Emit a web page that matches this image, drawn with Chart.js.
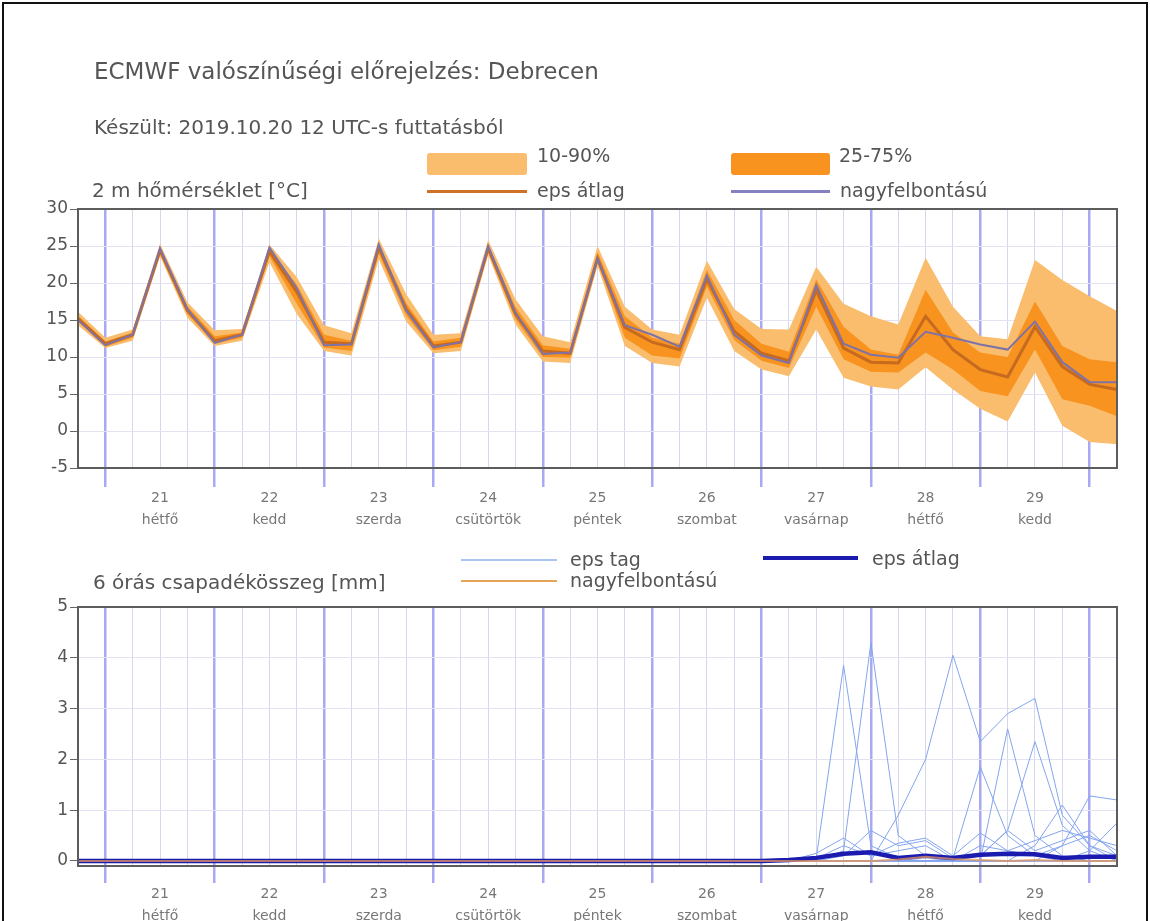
<!DOCTYPE html>
<html lang="hu">
<head>
<meta charset="utf-8">
<title>ECMWF valószínűségi előrejelzés: Debrecen</title>
<script src="https://cdn.jsdelivr.net/npm/chart.js@4.4.1/dist/chart.umd.min.js"></script>
<style>
  html, body { margin: 0; padding: 0; background: #fff; }
  body { width: 1150px; height: 921px; overflow: hidden; position: relative;
         font-family: "DejaVu Sans", sans-serif; color: #555; }
  .frame { position: absolute; left: 2px; top: 2px; width: 1142px; height: 960px; border: 2px solid #111; }
  canvas { position: absolute; left: 0; top: 0; }
  .txt { position: absolute; white-space: nowrap; line-height: 1; }
  .key { position: absolute; }
</style>
</head>
<body>
<div class="frame"></div>
<canvas id="tempChart" width="1150" height="921"></canvas>
<canvas id="precChart" width="1150" height="921"></canvas>

<div class="txt" style="left:94px;top:60px;font-size:23px;">ECMWF valószínűségi előrejelzés: Debrecen</div>
<div class="txt" style="left:94px;top:117px;font-size:20px;">Készült: 2019.10.20 12 UTC-s futtatásból</div>
<div class="txt" style="left:92px;top:180px;font-size:20px;">2 m hőmérséklet [°C]</div>

<div class="key" style="left:427px;top:153px;width:100px;height:22px;background:#f9bd6d;border-radius:3px;"></div>
<div class="txt" style="left:537px;top:146px;font-size:19px;">10-90%</div>
<div class="key" style="left:731px;top:153px;width:99px;height:22px;background:#f8931f;border-radius:3px;"></div>
<div class="txt" style="left:839px;top:146px;font-size:19px;">25-75%</div>
<div class="key" style="left:427px;top:190px;width:100px;height:3px;background:#cf7126;"></div>
<div class="txt" style="left:537px;top:181px;font-size:19px;">eps átlag</div>
<div class="key" style="left:731px;top:190px;width:99px;height:3px;background:#8580bf;"></div>
<div class="txt" style="left:840px;top:181px;font-size:19px;">nagyfelbontású</div>

<div class="txt" style="left:93px;top:572px;font-size:20px;">6 órás csapadékösszeg [mm]</div>
<div class="key" style="left:461px;top:559px;width:96px;height:2px;background:#aac4f4;"></div>
<div class="txt" style="left:570px;top:550px;font-size:19px;">eps tag</div>
<div class="key" style="left:763px;top:556px;width:95px;height:4px;background:#1b1bb0;"></div>
<div class="txt" style="left:872px;top:549px;font-size:19px;">eps átlag</div>
<div class="key" style="left:461px;top:580px;width:96px;height:2px;background:#e4a45a;"></div>
<div class="txt" style="left:570px;top:571px;font-size:19px;">nagyfelbontású</div>

<script>
// 6-hourly steps from 2019.10.20 18 UTC (lead +6 h) to 10.30 06 UTC (lead +234 h)
const dayNumbers = ["21", "22", "23", "24", "25", "26", "27", "28", "29"];
const dayNames = ["hétfő", "kedd", "szerda", "csütörtök", "péntek", "szombat", "vasárnap", "hétfő", "kedd"];
const tempTicks = [-5, 0, 5, 10, 15, 20, 25, 30];
const precTicks = [0, 1, 2, 3, 4, 5];

// 2 m temperature [°C]
const t2mHres = [15, 11.6, 13, 24.7, 16.5, 11.9, 13, 24.8, 19.3, 11.6,
  11.7, 25.2, 16.3, 11.3, 12, 25, 16, 10.4, 10.6, 23.3,
  14.3, 13, 11.4, 21, 13, 10.2, 9.2, 19.7, 11.8, 10.3,
  9.9, 13.4, 12.6, 11.7, 11, 14.8, 9.3, 6.6, 6.6];
const t2mMean = [15.2, 11.8, 13, 24.4, 16.3, 12.2, 13, 24.3, 18.8, 12,
  11.8, 24.8, 16.5, 11.5, 12, 24.7, 15.8, 10.8, 10.5, 23.3,
  14, 12, 11, 20.5, 13.5, 10.5, 9.5, 19, 11.2, 9.3,
  9.2, 15.5, 11, 8.3, 7.3, 14.1, 8.7, 6.3, 5.6];
const t2mP10 = [14.3, 11.2, 12.2, 23.6, 15.3, 11.5, 12.2, 22.8, 15.8, 10.8,
  10.2, 23.2, 14.8, 10.5, 10.8, 23.8, 14.4, 9.4, 9.2, 22.3,
  11.5, 9.2, 8.7, 18, 10.8, 8.3, 7.4, 13.7, 7.2, 6,
  5.6, 8.6, 5.6, 3, 1.3, 7.9, 0.7, -1.5, -1.8];
const t2mP25 = [14.8, 11.4, 12.6, 24.1, 15.8, 11.8, 12.6, 23.6, 17.2, 11.3,
  10.8, 24, 15.6, 10.9, 11.4, 24.3, 15.1, 10, 9.9, 22.9,
  12.6, 10.2, 9.8, 19.5, 12.3, 9.5, 8.5, 16.8, 9.7, 8,
  7.9, 10.6, 8.3, 5.4, 4.7, 11, 4.3, 3.4, 2];
const t2mP75 = [15.6, 12.1, 13.3, 24.8, 16.9, 12.8, 13.3, 24.6, 19.8, 13,
  12.2, 25.3, 17.3, 12.1, 12.6, 25.2, 16.8, 11.6, 11.1, 24.2,
  15.5, 12.6, 11.8, 21.8, 15, 11.8, 10.7, 20.5, 14.1, 11,
  10.3, 19.1, 13.3, 10.6, 10, 17.5, 11.5, 9.7, 9.3];
const t2mP90 = [16.1, 12.6, 13.7, 25.3, 17.4, 13.6, 13.8, 25.2, 20.8, 14.3,
  13.2, 26, 18.5, 13, 13.2, 25.8, 17.8, 12.8, 12, 25,
  16.8, 13.7, 13, 23, 16.5, 13.8, 13.7, 22.2, 17.2, 15.5,
  14.4, 23.4, 16.8, 12.8, 12.4, 23.1, 20.4, 18.2, 16.2];

// 6-hour precipitation [mm]
const precMean = [0, 0, 0, 0, 0, 0, 0, 0, 0, 0,
  0, 0, 0, 0, 0, 0, 0, 0, 0, 0,
  0, 0, 0, 0, 0, 0, 0.02, 0.06, 0.14, 0.17,
  0.06, 0.1, 0.06, 0.12, 0.14, 0.13, 0.06, 0.08, 0.08];
const precHres = [0, 0, 0, 0, 0, 0, 0, 0, 0, 0,
  0, 0, 0, 0, 0, 0, 0, 0, 0, 0,
  0, 0, 0, 0, 0, 0, 0, 0, 0, 0,
  0.03, 0.08, 0.04, 0.02, 0, 0.02, 0, 0, 0];
const memberA = [0, 0, 0, 0, 0, 0, 0, 0, 0, 0,
  0, 0, 0, 0, 0, 0, 0, 0, 0, 0,
  0, 0, 0, 0, 0, 0, 0, 0.05, 3.85, 0.3,
  0.05, 0, 0, 0, 0, 0, 0, 0, 0];
const memberB = [0, 0, 0, 0, 0, 0, 0, 0, 0, 0,
  0, 0, 0, 0, 0, 0, 0, 0, 0, 0,
  0, 0, 0, 0, 0, 0, 0, 0, 0.2, 4.3,
  0.5, 0.1, 0, 0, 0, 0, 0, 0, 0];
const memberC = [0, 0, 0, 0, 0, 0, 0, 0, 0, 0,
  0, 0, 0, 0, 0, 0, 0, 0, 0, 0,
  0, 0, 0, 0, 0, 0, 0, 0, 0, 0,
  0.9, 2, 4.05, 2.35, 2.9, 3.2, 0.9, 0.3, 0.1];
const memberD = [0, 0, 0, 0, 0, 0, 0, 0, 0, 0,
  0, 0, 0, 0, 0, 0, 0, 0, 0, 0,
  0, 0, 0, 0, 0, 0, 0, 0, 0, 0,
  0, 0, 0, 0, 2.6, 0.5, 0.1, 0, 0];
const memberE = [0, 0, 0, 0, 0, 0, 0, 0, 0, 0,
  0, 0, 0, 0, 0, 0, 0, 0, 0, 0,
  0, 0, 0, 0, 0, 0, 0, 0, 0, 0,
  0, 0, 0, 0.1, 0.6, 2.35, 0.7, 0.2, 0];
const memberF = [0, 0, 0, 0, 0, 0, 0, 0, 0, 0,
  0, 0, 0, 0, 0, 0, 0, 0, 0, 0,
  0, 0, 0, 0, 0, 0, 0, 0, 0, 0,
  0, 0, 0.05, 1.85, 0.5, 0.1, 0, 0, 0];
const memberG = [0, 0, 0, 0, 0, 0, 0, 0, 0, 0,
  0, 0, 0, 0, 0, 0, 0, 0, 0, 0,
  0, 0, 0, 0, 0, 0, 0, 0, 0, 0,
  0, 0, 0, 0, 0, 0.3, 1.1, 0.3, 0];
const memberH = [0, 0, 0, 0, 0, 0, 0, 0, 0, 0,
  0, 0, 0, 0, 0, 0, 0, 0, 0, 0,
  0, 0, 0, 0, 0, 0, 0, 0, 0, 0,
  0, 0, 0, 0, 0, 0, 0.3, 1.28, 1.2];
const memberI = [0, 0, 0, 0, 0, 0, 0, 0, 0, 0,
  0, 0, 0, 0, 0, 0, 0, 0, 0, 0,
  0, 0, 0, 0, 0, 0, 0, 0, 0, 0,
  0, 0, 0, 0, 0, 0, 0, 0.2, 0.75];
const memberJ = [0, 0, 0, 0, 0, 0, 0, 0, 0, 0,
  0, 0, 0, 0, 0, 0, 0, 0, 0, 0,
  0, 0, 0, 0, 0, 0, 0, 0.15, 0.45, 0.1,
  0.35, 0.45, 0.1, 0.55, 0.2, 0.1, 0.3, 0.5, 0.2];
const memberK = [0, 0, 0, 0, 0, 0, 0, 0, 0, 0,
  0, 0, 0, 0, 0, 0, 0, 0, 0, 0,
  0, 0, 0, 0, 0, 0, 0, 0, 0.1, 0.6,
  0.3, 0.4, 0.05, 0.1, 0.6, 0.2, 0.4, 0.6, 0.1];
const memberL = [0, 0, 0, 0, 0, 0, 0, 0, 0, 0,
  0, 0, 0, 0, 0, 0, 0, 0, 0, 0,
  0, 0, 0, 0, 0, 0, 0, 0.05, 0.3, 0.1,
  0.2, 0.3, 0, 0.3, 0.2, 0.4, 0.6, 0.45, 0.3];
const epsMembers = [memberA, memberB, memberC, memberD, memberE, memberF,
  memberG, memberH, memberI, memberJ, memberK, memberL];

Chart.defaults.font.family = "DejaVu Sans";
Chart.defaults.color = "#555";

// lead time in hours -> x position
const pts = (arr) => arr.map((v, i) => ({ x: 6 + 6 * i, y: v }));
const isDayLine = (h) => (h - 12) % 24 === 0;
const dayBlue = "#a9a9f2";
const thinGrid = "#d6d6ec";

const plotFrame = {
  id: "plotFrame",
  afterDraw(chart) {
    const { ctx, chartArea: a } = chart;
    ctx.save();
    ctx.strokeStyle = "#5c5c5c";
    ctx.lineWidth = 2;
    ctx.strokeRect(a.left, a.top, a.right - a.left, a.bottom - a.top);
    ctx.restore();
  },
};

function xAxis(height, tickLen) {
  return {
    type: "linear",
    min: 6,
    max: 234,
    border: { display: false },
    afterFit: (s) => { s.height = height; },
    grid: {
      color: (c) => (c.tick && isDayLine(c.tick.value) ? dayBlue : thinGrid),
      lineWidth: (c) => (c.tick && isDayLine(c.tick.value) ? 2.5 : 1),
      tickColor: (c) => (c.tick && isDayLine(c.tick.value) ? dayBlue : "rgba(0,0,0,0)"),
      tickWidth: 2.5,
      tickLength: tickLen,
    },
    ticks: {
      stepSize: 6,
      autoSkip: false,
      maxRotation: 0,
      padding: 0,
      color: "#777",
      font: { size: 14, lineHeight: 1.6 },
      callback: (v) => (v % 24 === 0 ? [dayNumbers[v / 24 - 1], dayNames[v / 24 - 1]] : ""),
    },
  };
}

function yAxis(ticks, min, max) {
  return {
    min: min,
    max: max,
    border: { display: false },
    afterFit: (s) => { s.width = 78; },
    afterBuildTicks: (s) => { s.ticks = ticks.map((v) => ({ value: v })); },
    grid: { color: "#e2e2f2", tickColor: "#666", tickLength: 8, lineWidth: 1 },
    ticks: { color: "#555", padding: 2, font: { size: 17 } },
  };
}

const noLine = "rgba(0,0,0,0)";

new Chart(document.getElementById("tempChart"), {
  type: "line",
  data: {
    datasets: [
      { data: pts(t2mP10), borderColor: noLine, borderWidth: 1, fill: false, order: 6 },
      { data: pts(t2mP90), borderColor: noLine, borderWidth: 1, fill: "-1", backgroundColor: "#f9bd6d", order: 5 },
      { data: pts(t2mP25), borderColor: noLine, borderWidth: 1, fill: false, order: 4 },
      { data: pts(t2mP75), borderColor: noLine, borderWidth: 1, fill: "-1", backgroundColor: "#f8931f", order: 3 },
      { data: pts(t2mMean), borderColor: "#c66a20", borderWidth: 3, fill: false, order: 2 },
      { data: pts(t2mHres), borderColor: "#7f72a6", borderWidth: 2, fill: false, order: 1 },
    ],
  },
  options: {
    responsive: false,
    animation: false,
    devicePixelRatio: 1,
    elements: { point: { radius: 0 }, line: { tension: 0 } },
    layout: { padding: { left: 0, top: 209, right: 33, bottom: 393 } },
    plugins: { legend: { display: false }, tooltip: { enabled: false } },
    scales: { x: xAxis(60, 19), y: yAxis(tempTicks, -5, 30) },
  },
  plugins: [plotFrame],
});

const precSets = epsMembers.map((m) => ({
  data: pts(m), borderColor: "#84a5ee", borderWidth: 1, fill: false, order: 3,
}));
precSets.push({ data: pts(precMean), borderColor: "#1b1bb0", borderWidth: 4.5, fill: false, order: 2 });
precSets.push({ data: pts(precHres), borderColor: "rgba(228,150,90,0.75)", borderWidth: 2, fill: false, order: 1 });

new Chart(document.getElementById("precChart"), {
  type: "line",
  data: { datasets: precSets },
  options: {
    responsive: false,
    animation: false,
    devicePixelRatio: 1,
    elements: { point: { radius: 0 }, line: { tension: 0 } },
    layout: { padding: { left: 0, top: 607, right: 33, bottom: 0 } },
    plugins: { legend: { display: false }, tooltip: { enabled: false } },
    scales: { x: xAxis(55, 17), y: yAxis(precTicks, -0.1, 5) },
  },
  plugins: [plotFrame],
});
</script>
</body>
</html>
